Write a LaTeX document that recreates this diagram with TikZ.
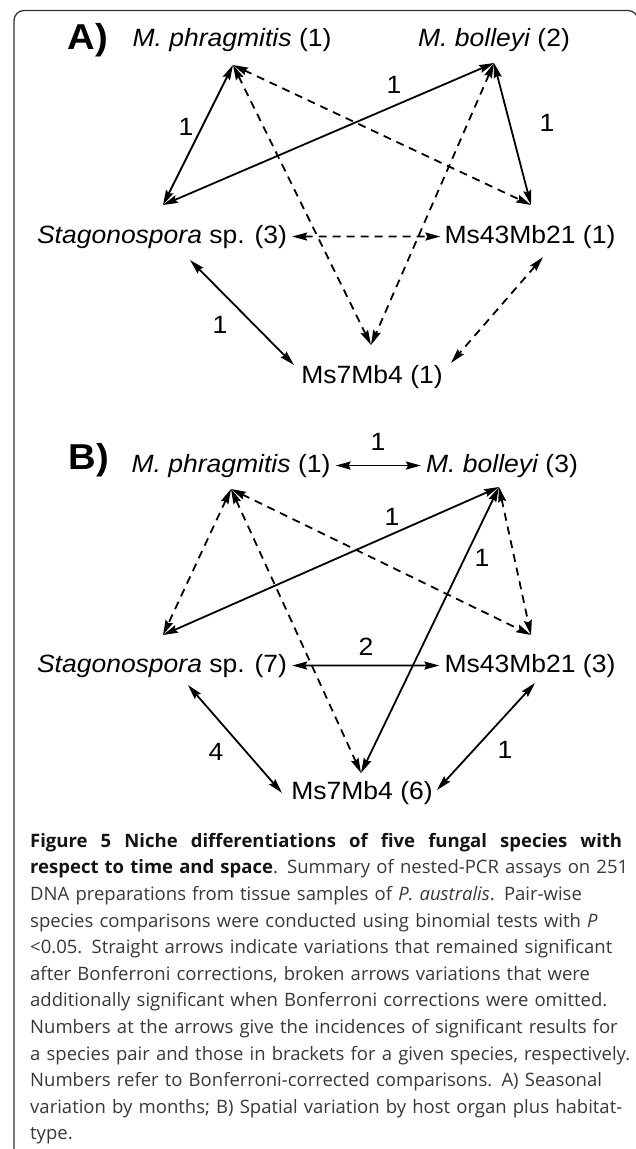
\documentclass[tikz,border=0pt]{standalone}
\usepackage{fontspec}
\setmainfont[FakeStretch=1.06]{Liberation Sans}
\newfontfamily\capfont{Open Sans}
\usetikzlibrary{arrows.meta}

\begin{document}
\begin{tikzpicture}[x=1pt,y=-1pt,inner sep=0pt,
 every node/.style={font=\fontsize{25}{30}\selectfont},
 sp/.style={anchor=base},
 panel/.style={font=\fontsize{36}{40}\selectfont\bfseries},
 arr/.style={{Stealth[length=15pt,width=8pt,inset=2pt]}-{Stealth[length=15pt,width=8pt,inset=2pt]},line width=1.8pt},
 brk/.style={arr,dash pattern=on 8pt off 6pt},
 caption/.style={anchor=north west,align=left,text width=610pt,text=black!78,font=\capfont\fontsize{18.5}{26.6}\selectfont}]
\useasboundingbox (0,0) rectangle (636,1149);
\draw[line width=1.3pt,black!80,rounded corners=10pt] (14,1160) |- (638,10.5) -- (638,60);

% panel A
\node[panel] (labA) at (88,40) {A)};
\node[sp] (phrA) at (232,46) {\itshape M. phragmitis \upshape(1)};
\node[sp] (bolA) at (494,46) {\itshape M. bolleyi \upshape(2)};
\node[sp] (stagA) at (162,243) {\itshape Stagonospora \upshape sp. (3)};
\node[sp] (msA) at (530,243) {Ms43Mb21 (1)};
\node[sp] (mbA) at (372,383) {Ms7Mb4 (1)};
\coordinate (phrA-s) at (233,65);
\coordinate (bolA-s) at (494,63);
\coordinate (stagA-n) at (163,205);
\coordinate (stagA-se) at (190,260);
\coordinate (msA-n) at (531,205);
\coordinate (msA-sw) at (543,257);
\coordinate (mbA-n) at (371,345);
\coordinate (mbA-w) at (294,365);
\coordinate (mbA-e) at (451,363);
\draw[arr] (phrA-s) -- (stagA-n);
\draw[arr] (bolA-s) -- (stagA-n);
\draw[arr] (bolA-s) -- (msA-n);
\draw[brk] (phrA-s) -- (msA-n);
\draw[brk] (phrA-s) -- (mbA-n);
\draw[brk] (bolA-s) -- (mbA-n);
\draw[brk,shorten <=5pt,shorten >=4pt] (stagA.east) -- (msA.west);
\draw[arr] (stagA-se) -- (mbA-w);
\draw[brk] (msA-sw) -- (mbA-e);
\node (nA1) at (186,127) {1};
\node (nA2) at (394,85) {1};
\node (nA3) at (547,123) {1};
\node (nA4) at (220,325) {1};

% panel B
\node[panel] (labB) at (89,460) {B)};
\node[sp] (phrB) at (231,472) {\itshape M. phragmitis \upshape(1)};
\node[sp] (bolB) at (502,472) {\itshape M. bolleyi \upshape(3)};
\node[sp] (stagB) at (162,672) {\itshape Stagonospora \upshape sp. (7)};
\node[sp] (msB) at (530,672) {Ms43Mb21 (3)};
\node[sp] (mbB) at (362,799) {Ms7Mb4 (6)};
\coordinate (phrB-s) at (231,489);
\coordinate (bolB-s) at (499,487);
\coordinate (stagB-n) at (163,635);
\coordinate (stagB-se) at (188,685);
\coordinate (msB-n) at (531,635);
\coordinate (msB-sw) at (535,683);
\coordinate (mbB-n) at (361,773);
\coordinate (mbB-w) at (282,793);
\coordinate (mbB-e) at (437,790);
\draw[arr,shorten <=5pt,shorten >=5pt] (phrB.east) -- (bolB.west);
\draw[brk] (phrB-s) -- (stagB-n);
\draw[brk] (phrB-s) -- (mbB-n);
\draw[brk] (phrB-s) -- (msB-n);
\draw[arr] (bolB-s) -- (stagB-n);
\draw[arr] (bolB-s) -- (mbB-n);
\draw[brk] (bolB-s) -- (msB-n);
\draw[arr,shorten <=5pt,shorten >=5pt] (stagB.east) -- (msB.west);
\draw[arr] (stagB-se) -- (mbB-w);
\draw[arr] (msB-sw) -- (mbB-e);
\node (nB1) at (378,442) {1};
\node (nB2) at (392,517) {1};
\node (nB3) at (482,558) {1};
\node (nB4) at (366,647) {2};
\node (nB5) at (216,752) {4};
\node (nB6) at (505,750) {1};

% caption
\node[caption] (cap) at (30,833) {\hbox to 592pt{\color{black!92}\bfseries\spaceskip=5pt plus 1fil\relax Figure 5 Niche differentiations of five fungal species with}\\
\textcolor{black!92}{\bfseries respect to time and space}. Summary of nested-PCR assays on 251\\
DNA preparations from tissue samples of \textit{P. australis}. Pair-wise\\
species comparisons were conducted using binomial tests with \textit{P}\\
<0.05. Straight arrows indicate variations that remained significant\\
after Bonferroni corrections, broken arrows variations that were\\
additionally significant when Bonferroni corrections were omitted.\\
Numbers at the arrows give the incidences of significant results for\\
a species pair and those in brackets for a given species, respectively.\\
Numbers refer to Bonferroni-corrected comparisons. A) Seasonal\\
variation by months; B) Spatial variation by host organ plus habitat-\\
type.};
\end{tikzpicture}
\end{document}
